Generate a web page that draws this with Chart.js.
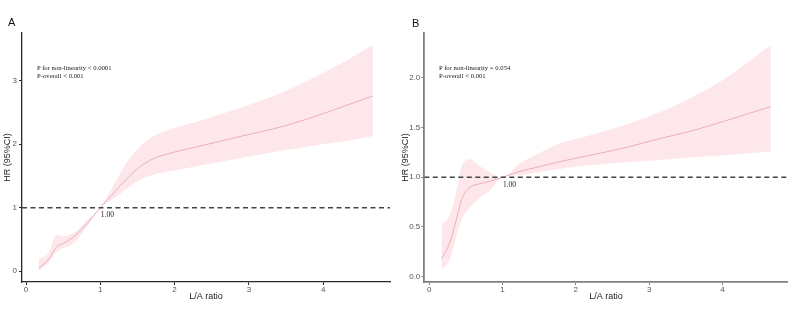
<!DOCTYPE html>
<html>
<head>
<meta charset="utf-8">
<script src="https://cdn.jsdelivr.net/npm/chart.js@4/dist/chart.umd.min.js"></script>
<style>
  html, body { margin: 0; padding: 0; background: #fff; }
  #wrap { position: relative; width: 803px; height: 330px; overflow: hidden; }
  .cv { position: absolute; top: 0; }
  .letter { position: absolute; font-family: "Liberation Sans", Arial, sans-serif; font-size: 11px; color: #111; }
  .ptext { position: absolute; font-family: "Liberation Serif", "Times New Roman", serif; font-size: 6.7px; line-height: 8px; color: #222; white-space: nowrap; }
</style>
</head>
<body>
<div id="wrap">
  <div class="cv" style="left:0;width:400px;height:330px;"><canvas id="cA" width="400" height="330"></canvas></div>
  <div class="cv" style="left:400px;width:403px;height:330px;"><canvas id="cB" width="403" height="330"></canvas></div>
  <div class="letter" style="left:8px;top:16px;">A</div>
  <div class="letter" style="left:412px;top:17px;">B</div>
  <div class="ptext" style="left:37px;top:64px;">P for non-linearity &lt; 0.0001<br>P-overall &lt; 0.001</div>
  <div class="ptext" style="left:439px;top:64px;">P for non-linearity = 0.054<br>P-overall &lt; 0.001</div>
</div>
<script>
// ---- Panel A data (L/A ratio vs HR) ----
const xA     = [0.17, 0.30, 0.41, 0.50, 0.64, 0.82, 1.00, 1.18, 1.36, 1.53, 1.71, 1.98, 2.34, 2.88, 3.46, 4.05, 4.36, 4.67];
const hrA    = [0.05, 0.18, 0.38, 0.44, 0.54, 0.75, 1.00, 1.23, 1.46, 1.64, 1.77, 1.87, 1.97, 2.12, 2.28, 2.50, 2.63, 2.76];
const upperA = [0.20, 0.28, 0.57, 0.55, 0.60, 0.80, 1.00, 1.36, 1.72, 1.96, 2.12, 2.25, 2.37, 2.57, 2.82, 3.15, 3.35, 3.56];
const lowerA = [0.01, 0.13, 0.30, 0.36, 0.44, 0.70, 1.00, 1.15, 1.30, 1.44, 1.52, 1.58, 1.66, 1.78, 1.90, 2.01, 2.06, 2.13];

// ---- Panel B data ----
const xB     = [0.17, 0.28, 0.37, 0.44, 0.56, 0.67, 0.83, 1.00, 1.24, 1.47, 1.74, 2.19, 2.69, 3.10, 3.60, 4.01, 4.66];
const hrB    = [0.18, 0.34, 0.57, 0.77, 0.90, 0.93, 0.96, 1.00, 1.06, 1.10, 1.15, 1.22, 1.30, 1.38, 1.47, 1.56, 1.71];
const upperB = [0.52, 0.62, 0.85, 1.10, 1.18, 1.12, 1.05, 1.00, 1.14, 1.23, 1.33, 1.42, 1.53, 1.64, 1.81, 1.98, 2.33];
const lowerB = [0.07, 0.17, 0.40, 0.57, 0.70, 0.78, 0.87, 1.00, 1.02, 1.05, 1.08, 1.12, 1.15, 1.17, 1.20, 1.22, 1.26];

// ---- ticks / reference ----
const xTicks  = [0, 1, 2, 3, 4];
const yTicksA = [0, 1, 2, 3];
const yTicksB = [0, 0.5, 1.0, 1.5, 2.0];
const refHR = 1;
const refLabel = "1.00";

const BAND = '#fde7ea';
const LINE = '#e6a9b4';

function pts(xs, ys) { return xs.map((x, i) => ({ x: x, y: ys[i] })); }

const refLabelPlugin = {
  id: 'refLabel',
  afterDatasetsDraw(chart) {
    const ctx = chart.ctx, xs = chart.scales.x, ys = chart.scales.y;
    ctx.save();
    ctx.font = '7.5px "Liberation Serif", "Times New Roman", serif';
    ctx.fillStyle = '#222';
    ctx.textAlign = 'left';
    ctx.textBaseline = 'middle';
    ctx.fillText(refLabel, xs.getPixelForValue(refHR) + 0.5, ys.getPixelForValue(refHR) + 7.5);
    ctx.restore();
  }
};

function makeChart(id, xs, hr, up, lo, yTicks, cfg) {
  const datasets = [
    { data: [{ x: cfg.xMin, y: refHR }, { x: cfg.xMax, y: refHR }], borderColor: '#444', borderWidth: 1.5, borderDash: [5, 3.5], pointRadius: 0, fill: false, tension: 0 },
    { data: pts(xs, hr), borderColor: LINE, borderWidth: 0.9, pointRadius: 0, fill: false, cubicInterpolationMode: 'monotone' },
    { data: pts(xs, up), borderColor: 'rgba(0,0,0,0)', borderWidth: 0, pointRadius: 0, fill: '+1', backgroundColor: BAND, cubicInterpolationMode: 'monotone' },
    { data: pts(xs, lo), borderColor: 'rgba(0,0,0,0)', borderWidth: 0, pointRadius: 0, fill: false, cubicInterpolationMode: 'monotone' }
  ];
  return new Chart(document.getElementById(id), {
    type: 'line',
    data: { datasets: datasets },
    plugins: [refLabelPlugin],
    options: {
      responsive: false,
      animation: false,
      events: [],
      layout: { padding: { top: 33, right: cfg.padRight, bottom: 28, left: 0 } },
      plugins: { legend: { display: false }, tooltip: { enabled: false } },
      scales: {
        x: {
          type: 'linear', min: cfg.xMin, max: cfg.xMax,
          afterBuildTicks: s => { s.ticks = xTicks.map(v => ({ value: v })); },
          afterFit: s => { s.height = 20; },
          grid: { display: true, drawOnChartArea: false, drawTicks: true, tickLength: 3, color: cfg.axisColor, lineWidth: 1 },
          border: { display: true, color: cfg.axisColor, width: cfg.axisWidth },
          ticks: { color: '#555', font: { family: '"Liberation Sans", Arial, sans-serif', size: 8 }, padding: 0, maxRotation: 0, callback: v => String(v) },
          title: { display: true, text: 'L/A ratio', color: '#222', font: { family: '"Liberation Sans", Arial, sans-serif', size: 9 }, padding: { top: 0, bottom: 0 } }
        },
        y: {
          type: 'linear', min: cfg.yMin, max: cfg.yMax,
          afterBuildTicks: s => { s.ticks = yTicks.map(v => ({ value: v })); },
          afterFit: s => { s.width = cfg.yAxisWidth; },
          grid: { display: true, drawOnChartArea: false, drawTicks: true, tickLength: 3, color: cfg.axisColor, lineWidth: 1 },
          border: { display: true, color: cfg.axisColor, width: cfg.axisWidth },
          ticks: { color: '#555', font: { family: '"Liberation Sans", Arial, sans-serif', size: 8 }, padding: cfg.yTickPad, callback: cfg.yFmt },
          title: { display: true, text: 'HR (95%CI)', color: '#222', font: { family: '"Liberation Sans", Arial, sans-serif', size: 9 }, padding: { top: cfg.yTitlePad, bottom: 0 } }
        }
      }
    }
  });
}

makeChart('cA', xA, hrA, upperA, lowerA, yTicksA, {
  xMin: -0.054, xMax: 4.9, yMin: -0.17, yMax: 3.75,
  padRight: 10, yAxisWidth: 22, yTickPad: 2, yTitlePad: 2.5,
  axisColor: '#2a2a2a', axisWidth: 1.3,
  yFmt: v => String(v)
});
makeChart('cB', xB, hrB, upperB, lowerB, yTicksB, {
  xMin: -0.066, xMax: 4.89, yMin: -0.053, yMax: 2.45,
  padRight: 15.3, yAxisWidth: 24.3, yTickPad: 1, yTitlePad: 0,
  axisColor: '#808080', axisWidth: 1.8,
  yFmt: v => Number(v).toFixed(1)
});
</script>
</body>
</html>
